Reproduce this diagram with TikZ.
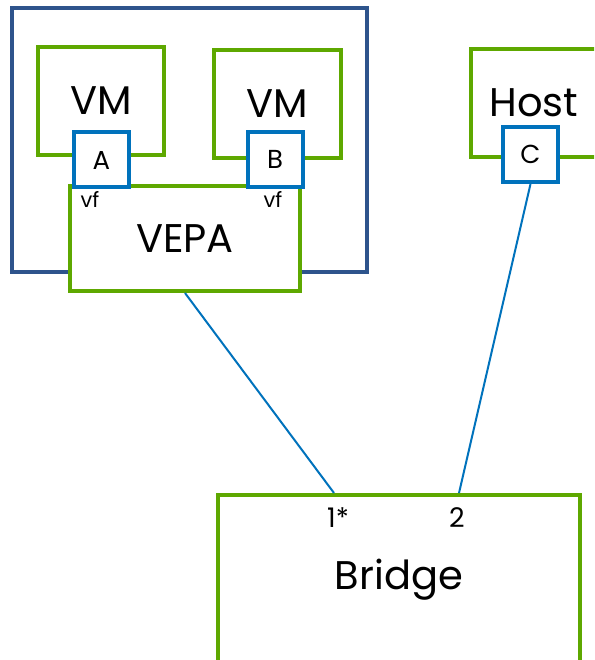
\documentclass[tikz,border=0pt]{standalone}
\usepackage{fontspec}
\setmainfont{Poppins}
\begin{document}
\begin{tikzpicture}[x=1pt,y=-1pt]
  % Define colors
  \definecolor{boxgreen}{RGB}{94,168,0}
  \definecolor{framecolor}{RGB}{46,84,140}
  \definecolor{portcolor}{RGB}{0,114,188}
  \tikzset{
    box/.style={draw=boxgreen,line width=4pt,fill=white,inner sep=0pt,font=\fontsize{40}{40}\selectfont},
    port/.style={draw=portcolor,line width=4pt,fill=white,minimum size=55pt,inner sep=0pt,font=\fontsize{26}{26}\selectfont},
    link/.style={portcolor,line width=2pt},
    small/.style={inner sep=0pt,font=\fontsize{21}{21}\selectfont}
  }
  \clip (0,0) rectangle (594,660);

  % Server frame (blue)
  \node[draw=framecolor,line width=4pt,minimum width=355pt,minimum height=264pt,inner sep=0pt] (server) at (189.5,140) {};

  % Virtual machines
  \node[box,minimum width=126pt,minimum height=108pt] (vm1) at (101,101) {VM};
  \node[box,minimum width=127pt,minimum height=108pt] (vm2) at (277.5,104) {VM};

  % VEPA
  \node[box,minimum width=230pt,minimum height=105pt] (vepa) at (185,238.5) {VEPA};

  % Ports A and B
  \node[port] (porta) at (101.5,160) {A};
  \node[port] (portb) at (275,159.5) {B};
  \node[small] (vfa) at (90,199) {vf};
  \node[small] (vfb) at (273,199) {vf};

  % Host
  \node[box,minimum width=126pt,minimum height=108pt] (host) at (534,103) {Host};
  \node[port] (portc) at (530.5,154.5) {C};

  % Bridge
  \node[box,minimum width=362pt,minimum height=170pt] (bridge) at (399,580) {Bridge};
  \coordinate (b1) at (334,493);
  \coordinate (b2) at (459,493);
  \node[small,font=\fontsize{27}{27}\selectfont] (lab1) at (338,518) {1*};
  \node[small,font=\fontsize{27}{27}\selectfont] (lab2) at (457,518) {2};

  % Connections
  \draw[link] (vepa.south) -- (b1);
  \draw[link] (portc.south) -- (b2);
\end{tikzpicture}
\end{document}
